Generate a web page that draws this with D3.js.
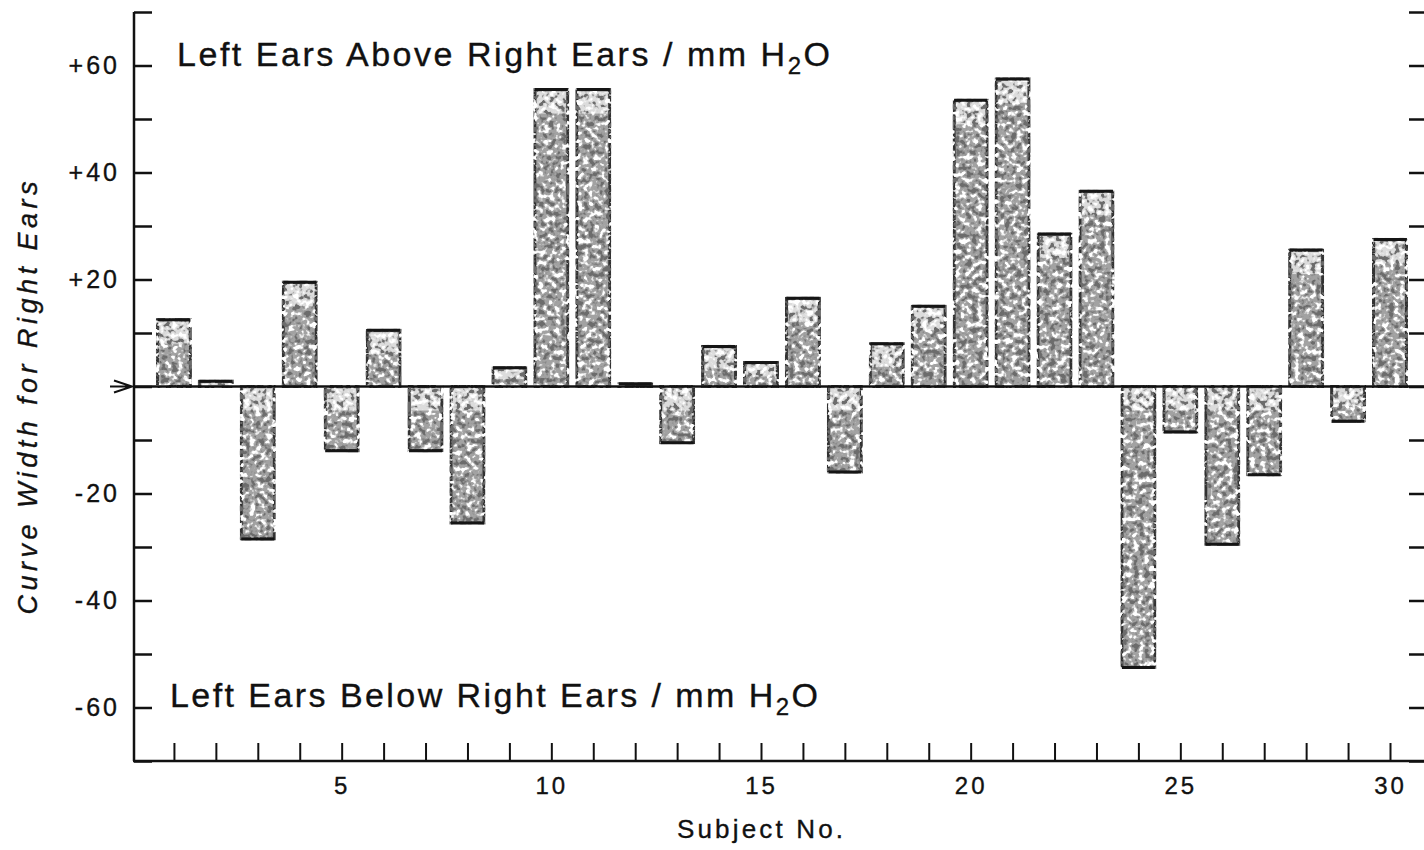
<!DOCTYPE html>
<html>
<head>
<meta charset="utf-8">
<script src="https://cdn.jsdelivr.net/npm/d3@7/dist/d3.min.js"></script>
<style>
  html, body { margin: 0; padding: 0; background: #fff; }
  svg { display: block; }
  text { fill: #111; stroke: #111; stroke-width: 0.35px; font-family: "Liberation Sans", Arial, sans-serif; }
</style>
</head>
<body>
<svg id="chart" width="1424" height="850"></svg>
<script>
// Difference in curve width between left and right ears, per subject (mm H2O)
const subjects = [1, 2, 3, 4, 5, 6, 7, 8, 9, 10, 11, 12, 13, 14, 15,
                  16, 17, 18, 19, 20, 21, 22, 23, 24, 25, 26, 27, 28, 29, 30];
const widthDiff = [12.5, 1, -28.5, 19.5, -12, 10.5, -12, -25.5, 3.5, 55.5,
                   55.5, 0.5, -10.5, 7.5, 4.5, 16.5, -16, 8, 15, 53.5,
                   57.5, 28.5, 36.5, -52.5, -8.5, -29.5, -16.5, 25.5, -6.5, 27.5];
const yTickValues = [-70, -60, -50, -40, -30, -20, -10, 0, 10, 20, 30, 40, 50, 60, 70];
const yLabelValues = [60, 40, 20, -20, -40, -60];
const xLabelValues = [5, 10, 15, 20, 25, 30];

const svg = d3.select("#chart");
const W = 1424, H = 850;

const x = d3.scaleLinear().domain([0, 30]).range([132, 1390]);
const y = d3.scaleLinear().domain([-70, 70]).range([761, 12]);
const axisX = 134, axisBottomY = y(-70);
const barW = 33;

// stipple texture for the bars
const defs = svg.append("defs");
const f = defs.append("filter").attr("id", "stipple")
  .attr("x", "-5%").attr("y", "-5%").attr("width", "110%").attr("height", "110%");
f.append("feTurbulence").attr("type", "fractalNoise").attr("baseFrequency", 0.18)
  .attr("numOctaves", 2).attr("seed", 11).attr("result", "n");
f.append("feColorMatrix").attr("in", "n").attr("type", "matrix")
  .attr("values", "0 0 0 0 0.15  0 0 0 0 0.15  0 0 0 0 0.15  8 0 0 0 -4.3")
  .attr("result", "dark");
f.append("feColorMatrix").attr("in", "n").attr("type", "matrix")
  .attr("values", "0 0 0 0 1  0 0 0 0 1  0 0 0 0 1  -8 0 0 0 3.6")
  .attr("result", "light");
const merge = f.append("feMerge").attr("result", "m");
merge.append("feMergeNode").attr("in", "SourceGraphic");
merge.append("feMergeNode").attr("in", "light");
merge.append("feMergeNode").attr("in", "dark");
f.append("feComposite").attr("in", "m").attr("in2", "SourceGraphic").attr("operator", "in");

// bars
const data = subjects.map((s, i) => ({ s, v: widthDiff[i] }));
const bars = svg.append("g").attr("filter", "url(#stipple)");
bars.selectAll("rect.bar").data(data).join("rect")
  .attr("class", "bar")
  .attr("x", d => x(d.s) - barW / 2)
  .attr("y", d => Math.min(y(d.v), y(0)))
  .attr("width", barW)
  .attr("height", d => Math.max(2, Math.abs(y(d.v) - y(0))))
  .attr("fill", "#a2a2a2")
  .attr("stroke", "#333").attr("stroke-width", 3);
// paler band along the top of each bar
bars.selectAll("rect.cap").data(data).join("rect")
  .attr("class", "cap")
  .attr("x", d => x(d.s) - barW / 2 + 2)
  .attr("y", d => Math.min(y(d.v), y(0)) + 2)
  .attr("width", barW - 4)
  .attr("height", d => Math.min(22, Math.abs(y(d.v) - y(0)) * 0.5))
  .attr("fill", "#dcdcdc");

// heavy edge at the outer end of each bar
svg.append("g").selectAll("line").data(data).join("line")
  .attr("x1", d => x(d.s) - barW / 2)
  .attr("x2", d => x(d.s) + barW / 2)
  .attr("y1", d => y(d.v)).attr("y2", d => y(d.v))
  .attr("stroke", "#151515").attr("stroke-width", 3);

// left axis: inward ticks
const gL = svg.append("g").attr("transform", `translate(${axisX},0)`)
  .call(d3.axisRight(y).tickValues(yTickValues).tickSize(18).tickFormat(""));
gL.select(".domain").remove();
gL.selectAll(".tick line").attr("stroke", "#111").attr("stroke-width", 2.5);
svg.append("line").attr("x1", axisX).attr("x2", axisX)
  .attr("y1", y(70)).attr("y2", axisBottomY)
  .attr("stroke", "#111").attr("stroke-width", 2.5);

// left axis labels
const gLL = svg.append("g").attr("transform", `translate(${axisX},0)`)
  .call(d3.axisLeft(y).tickValues(yLabelValues).tickSize(0).tickPadding(14)
    .tickFormat(d => (d > 0 ? "+" : "-") + Math.abs(d)));
gLL.select(".domain").remove();
gLL.selectAll("text").attr("font-size", 25).attr("letter-spacing", 3)
  .attr("font-family", "Liberation Sans, Arial, sans-serif").attr("fill", "#111");

// right side ticks
const gR = svg.append("g").attr("transform", `translate(${W},0)`)
  .call(d3.axisLeft(y).tickValues(yTickValues).tickSize(15).tickFormat(""));
gR.select(".domain").remove();
gR.selectAll(".tick line").attr("stroke", "#111").attr("stroke-width", 2.5);

// bottom axis: upward ticks at each subject
const gB = svg.append("g").attr("transform", `translate(0,${axisBottomY})`)
  .call(d3.axisTop(x).tickValues(subjects).tickSize(18).tickFormat(""));
gB.select(".domain").remove();
gB.selectAll(".tick line").attr("stroke", "#111").attr("stroke-width", 2);
svg.append("line").attr("x1", axisX - 1).attr("x2", W)
  .attr("y1", axisBottomY).attr("y2", axisBottomY)
  .attr("stroke", "#111").attr("stroke-width", 2.5);

const gBL = svg.append("g").attr("transform", `translate(0,${axisBottomY})`)
  .call(d3.axisBottom(x).tickValues(xLabelValues).tickSize(0).tickPadding(16));
gBL.select(".domain").remove();
gBL.selectAll("text").attr("font-size", 24).attr("letter-spacing", 3)
  .attr("font-family", "Liberation Sans, Arial, sans-serif").attr("fill", "#111");

// zero line with arrow
svg.append("line").attr("x1", axisX).attr("x2", W)
  .attr("y1", y(0)).attr("y2", y(0))
  .attr("stroke", "#111").attr("stroke-width", 2.5);
svg.append("path")
  .attr("d", `M${axisX - 24},${y(0)}H${axisX - 2}M${axisX - 20},${y(0) - 6}L${axisX - 2},${y(0)}L${axisX - 20},${y(0) + 6}`)
  .attr("fill", "none").attr("stroke", "#111").attr("stroke-width", 2);

// annotations
function annot(tx, ty, words, len) {
  const t = svg.append("text").attr("x", tx).attr("y", ty)
    .attr("font-size", 34)
    .attr("textLength", len).attr("lengthAdjust", "spacing");
  t.append("tspan").text(words + " / mm H");
  t.append("tspan").attr("font-size", 24).attr("dy", 8).text("2");
  t.append("tspan").attr("dy", -8).text("O");
}
annot(177, 66, "Left Ears Above Right Ears", 653);
annot(170, 707, "Left Ears Below Right Ears", 648);

// axis titles
svg.append("text").attr("x", 760).attr("y", 838)
  .attr("text-anchor", "middle").attr("font-size", 26)
  .attr("textLength", 166).attr("lengthAdjust", "spacing")
  .text("Subject No.");
svg.append("text")
  .attr("transform", `translate(37,398) rotate(-90)`)
  .attr("text-anchor", "middle").attr("font-size", 27).attr("font-style", "italic")
  .attr("textLength", 433).attr("lengthAdjust", "spacing")
  .text("Curve Width for Right Ears");
</script>
</body>
</html>
